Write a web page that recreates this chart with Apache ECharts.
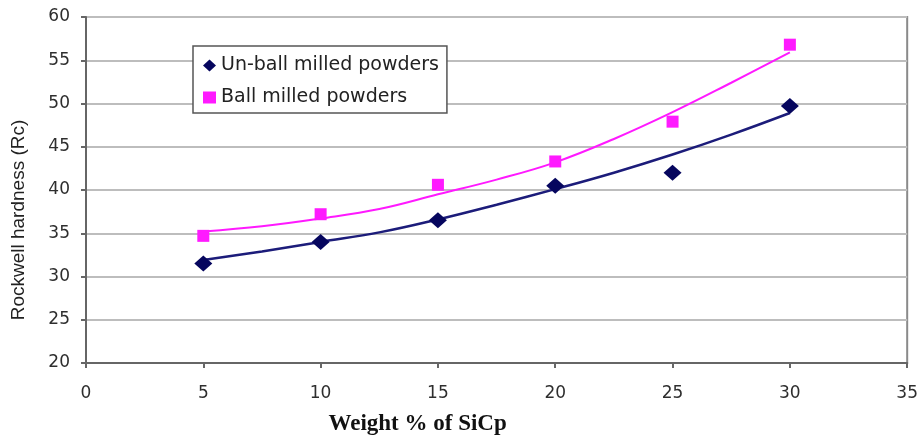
<!DOCTYPE html>
<html><head><meta charset="utf-8">
<script src="https://cdn.jsdelivr.net/npm/echarts@6/dist/echarts.min.js"></script>
<style>html,body{margin:0;padding:0;background:#fff}#c{width:921px;height:441px}</style>
</head><body><div id="c"></div>
<script>
const xTicks = [0, 5, 10, 15, 20, 25, 30, 35];
const weights = [5, 10, 15, 20, 25, 30];
const unBall = [31.5, 34.0, 36.5, 40.5, 42.0, 49.7];
const ball = [34.7, 37.2, 40.6, 43.3, 47.9, 56.8];
const trendX = [5, 7.5, 10, 12.5, 15, 17.5, 20, 22.5, 25, 27.5, 30];
const unBallTrend = [31.9, 32.9, 34.0, 35.1, 36.6, 38.3, 40.1, 42.0, 44.1, 46.4, 48.9];
const ballTrend = [35.2, 35.8, 36.7, 37.8, 39.5, 41.2, 43.2, 45.9, 49.0, 52.4, 55.9];

const pair = (xs, ys) => xs.map((x, i) => [x, ys[i]]);
const chart = echarts.init(document.getElementById('c'));
chart.setOption({
  animation: false,
  backgroundColor: '#fff',
  grid: { left: 86, right: 12, top: 17, bottom: 77, show: true, borderColor: '#8a8a8a', borderWidth: 2 },
  legend: {
    left: 193, top: 46, orient: 'vertical',
    padding: [10, 8, 6, 10], itemGap: 13,
    borderColor: '#555', borderWidth: 1.5, backgroundColor: '#fff',
    itemWidth: 13, itemHeight: 12,
    textStyle: { fontFamily: 'DejaVu Sans', fontSize: 19, color: '#222' },
    data: [
      { name: 'Un-ball milled powders', icon: 'diamond' },
      { name: 'Ball milled powders', icon: 'rect' }
    ]
  },
  xAxis: {
    type: 'value', min: 0, max: 35, interval: 5,
    name: 'Weight % of SiCp', nameLocation: 'middle', nameGap: 50,
    nameTextStyle: { fontFamily: 'Liberation Serif', fontWeight: 'bold', fontSize: 23, color: '#111', padding: [0, 158, 0, 0] },
    axisLine: { lineStyle: { color: '#666', width: 2 } },
    axisTick: { show: true, length: 5, lineStyle: { color: '#666', width: 2 } },
    axisLabel: { fontFamily: 'DejaVu Sans', fontSize: 17, color: '#2e2e2e', margin: 22,
      formatter: v => xTicks.includes(v) ? String(v) : '' },
    splitLine: { show: false }
  },
  yAxis: {
    type: 'value', min: 20, max: 60, interval: 5,
    name: 'Rockwell hardness (Rc)', nameLocation: 'middle', nameGap: 58, nameRotate: 90,
    nameTextStyle: { fontFamily: 'Liberation Sans', fontSize: 19, color: '#222', padding: [0, 60, 0, 0] },
    axisLine: { show: true, lineStyle: { color: '#666', width: 2 } },
    axisTick: { show: true, length: 5, lineStyle: { color: '#666', width: 2 } },
    axisLabel: { fontFamily: 'DejaVu Sans', fontSize: 17, color: '#2e2e2e', margin: 16 },
    splitLine: { show: true, lineStyle: { color: '#bdbdbd', width: 2 } }
  },
  series: [
    { name: 'Un-ball milled powders trend', type: 'line', data: pair(trendX, unBallTrend),
      smooth: 0.4, symbol: 'none', lineStyle: { color: '#1c1c7a', width: 2.5 }, z: 2, silent: true },
    { name: 'Ball milled powders trend', type: 'line', data: pair(trendX, ballTrend),
      smooth: 0.4, symbol: 'none', lineStyle: { color: '#ff19ff', width: 2 }, z: 2, silent: true },
    { name: 'Un-ball milled powders', type: 'scatter', data: pair(weights, unBall),
      symbol: 'diamond', symbolSize: [18, 16], itemStyle: { color: '#06065e', opacity: 1 }, z: 3 },
    { name: 'Ball milled powders', type: 'scatter', data: pair(weights, ball),
      symbol: 'rect', symbolSize: 12, itemStyle: { color: '#ff1aff', opacity: 1 }, z: 3 }
  ]
});
</script></body></html>
